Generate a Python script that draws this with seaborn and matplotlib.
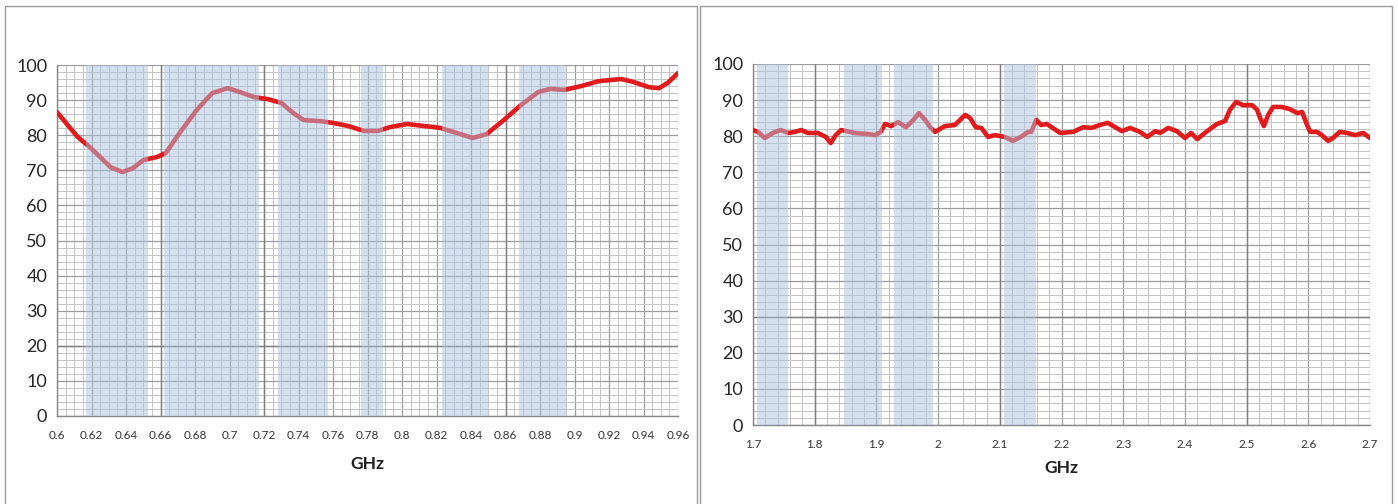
import matplotlib
matplotlib.use("Agg")
import matplotlib.pyplot as plt
from matplotlib.patches import Rectangle
from matplotlib.ticker import MultipleLocator
import pandas as pd
import seaborn as sns

# Low band (GHz) readings
low_ghz = [0.600, 0.606, 0.612, 0.619, 0.625, 0.631, 0.638, 0.644, 0.650, 0.658,
           0.663, 0.671, 0.681, 0.690, 0.699, 0.706, 0.714, 0.722, 0.730, 0.737,
           0.743, 0.753, 0.760, 0.769, 0.778, 0.786, 0.793, 0.803, 0.813, 0.822,
           0.832, 0.841, 0.849, 0.859, 0.869, 0.879, 0.886, 0.894, 0.904, 0.914,
           0.927, 0.934, 0.943, 0.949, 0.954, 0.960]
low_val = [86.6, 83.0, 79.5, 76.6, 73.8, 70.9, 69.5, 70.6, 72.9, 73.8,
           74.9, 80.6, 87.2, 92.0, 93.4, 92.3, 90.9, 90.3, 89.2, 86.3,
           84.3, 84.0, 83.5, 82.6, 81.2, 81.2, 82.3, 83.2, 82.6, 82.1,
           80.6, 79.2, 80.3, 84.3, 88.6, 92.3, 93.2, 92.9, 94.0, 95.4,
           96.0, 95.2, 93.7, 93.4, 94.9, 97.7]
low_bands = [(0.617, 0.653), (0.662, 0.717), (0.728, 0.757),
             (0.776, 0.789), (0.823, 0.850), (0.868, 0.895)]
low_ticks = [0.6, 0.62, 0.64, 0.66, 0.68, 0.7, 0.72, 0.74, 0.76, 0.78,
             0.8, 0.82, 0.84, 0.86, 0.88, 0.9, 0.92, 0.94, 0.96]
low_tick_labels = ['0.6', '0.62', '0.64', '0.66', '0.68', '0.7', '0.72', '0.74',
                   '0.76', '0.78', '0.8', '0.82', '0.84', '0.86', '0.88', '0.9',
                   '0.92', '0.94', '0.96']

# High band (GHz) readings
high_ghz = [1.700, 1.708, 1.719, 1.732, 1.745, 1.757, 1.768, 1.778, 1.789, 1.805,
            1.818, 1.826, 1.834, 1.843, 1.865, 1.886, 1.898, 1.907, 1.914, 1.924,
            1.935, 1.948, 1.960, 1.969, 1.979, 1.988, 1.995, 2.011, 2.027, 2.044,
            2.052, 2.061, 2.070, 2.081, 2.092, 2.108, 2.121, 2.134, 2.146, 2.151,
            2.159, 2.167, 2.176, 2.198, 2.219, 2.235, 2.249, 2.262, 2.275, 2.298,
            2.311, 2.327, 2.339, 2.352, 2.360, 2.373, 2.387, 2.400, 2.410, 2.420,
            2.436, 2.452, 2.465, 2.473, 2.483, 2.494, 2.509, 2.517, 2.522, 2.528,
            2.535, 2.543, 2.557, 2.570, 2.582, 2.590, 2.598, 2.603, 2.614, 2.622,
            2.632, 2.640, 2.651, 2.663, 2.676, 2.689, 2.700]
high_val = [81.7, 81.2, 79.5, 80.9, 81.7, 80.9, 81.2, 81.7, 80.9, 80.9,
            79.8, 78.1, 80.3, 81.7, 80.9, 80.6, 80.3, 81.2, 83.4, 82.8,
            83.9, 82.5, 84.5, 86.4, 84.5, 82.3, 81.2, 82.8, 83.1, 85.9,
            85.0, 82.5, 82.3, 79.8, 80.3, 79.8, 78.7, 79.8, 81.2, 81.2,
            84.5, 83.1, 83.4, 80.9, 81.2, 82.5, 82.3, 83.1, 83.7, 81.4,
            82.3, 81.2, 79.8, 81.4, 80.9, 82.3, 81.4, 79.5, 80.9, 79.2,
            81.4, 83.4, 84.2, 87.3, 89.5, 88.6, 88.6, 87.3, 85.0, 82.8,
            85.9, 88.1, 88.1, 87.5, 86.4, 86.7, 83.1, 81.2, 81.2, 80.3,
            78.7, 79.5, 81.2, 80.9, 80.3, 80.9, 79.5]
high_bands = [(1.707, 1.757), (1.848, 1.909), (1.928, 1.992), (2.107, 2.159)]
high_ticks = [1.7, 1.8, 1.9, 2.0, 2.1, 2.2, 2.3, 2.4, 2.5, 2.6, 2.7]
high_tick_labels = ['1.7', '1.8', '1.9', '2', '2.1', '2.2', '2.3', '2.4',
                    '2.5', '2.6', '2.7']

y_ticks = [0, 10, 20, 30, 40, 50, 60, 70, 80, 90, 100]

sns.set_style("white")
plt.rcParams['font.family'] = ['Lato', 'DejaVu Sans']

fig = plt.figure(figsize=(13.98, 5.04), dpi=100)

# panel frames
for x0, x1 in [(5, 697), (700, 1392)]:
    fig.add_artist(Rectangle((x0 / 1398, -0.02), (x1 - x0) / 1398, 1.02 - 6 / 504,
                             transform=fig.transFigure, fill=False,
                             edgecolor='#9a9a9a', linewidth=1.0))

panels = [
    dict(rect=[57 / 1398, 88 / 504, 621 / 1398, 351 / 504],
         x=low_ghz, y=low_val, bands=low_bands, ticks=low_ticks,
         labels=low_tick_labels, minor=0.005, dark_x=[0.66, 0.72, 0.86], dark_y=[20],
         labelpad=11),
    dict(rect=[753 / 1398, 79 / 504, 617 / 1398, 361 / 504],
         x=high_ghz, y=high_val, bands=high_bands, ticks=high_ticks,
         labels=high_tick_labels, minor=0.02, dark_x=[1.8, 2.1, 2.5], dark_y=[30],
         labelpad=7),
]

for p in panels:
    ax = fig.add_axes(p['rect'])
    df = pd.DataFrame({'GHz': p['x'], 'value': p['y']})
    sns.lineplot(data=df, x='GHz', y='value', ax=ax, color='#e31a1c',
                 linewidth=3.3, solid_joinstyle='round', solid_capstyle='round',
                 zorder=3)
    for a, b in p['bands']:
        ax.axvspan(a, b, color='#adc3e1', alpha=0.5, linewidth=0, zorder=4)

    ax.set_xlim(p['ticks'][0], p['ticks'][-1])
    ax.set_ylim(0, 100)
    ax.set_xticks(p['ticks'])
    ax.set_xticklabels(p['labels'], fontsize=8.5, color='#333333')
    ax.set_yticks(y_ticks)
    ax.set_yticklabels([str(v) for v in y_ticks], fontsize=13, color='#262626')
    ax.xaxis.set_minor_locator(MultipleLocator(p['minor']))
    ax.yaxis.set_minor_locator(MultipleLocator(2))
    ax.set_axisbelow(True)
    ax.grid(which='major', color='#9c9c9c', linewidth=0.9)
    ax.grid(which='minor', color='#c4c4c4', linewidth=0.7)
    for v in p['dark_x']:
        ax.axvline(v, color='#808080', linewidth=1.0, zorder=1)
    for v in p['dark_y']:
        ax.axhline(v, color='#808080', linewidth=1.0, zorder=1)

    for side in ['top', 'right']:
        ax.spines[side].set_visible(False)
    for side in ['left', 'bottom']:
        ax.spines[side].set_color('#888888')
        ax.spines[side].set_linewidth(1.0)
    ax.tick_params(axis='x', which='major', length=4, color='#888888', pad=6)
    ax.tick_params(axis='y', which='major', length=4, color='#888888', pad=3)
    ax.tick_params(which='minor', length=0)

    ax.set_xlabel('GHz', fontsize=12.5, fontweight='bold', color='#202020',
                  labelpad=p['labelpad'])
    ax.set_ylabel('')

fig.savefig('out.png', dpi=100)
